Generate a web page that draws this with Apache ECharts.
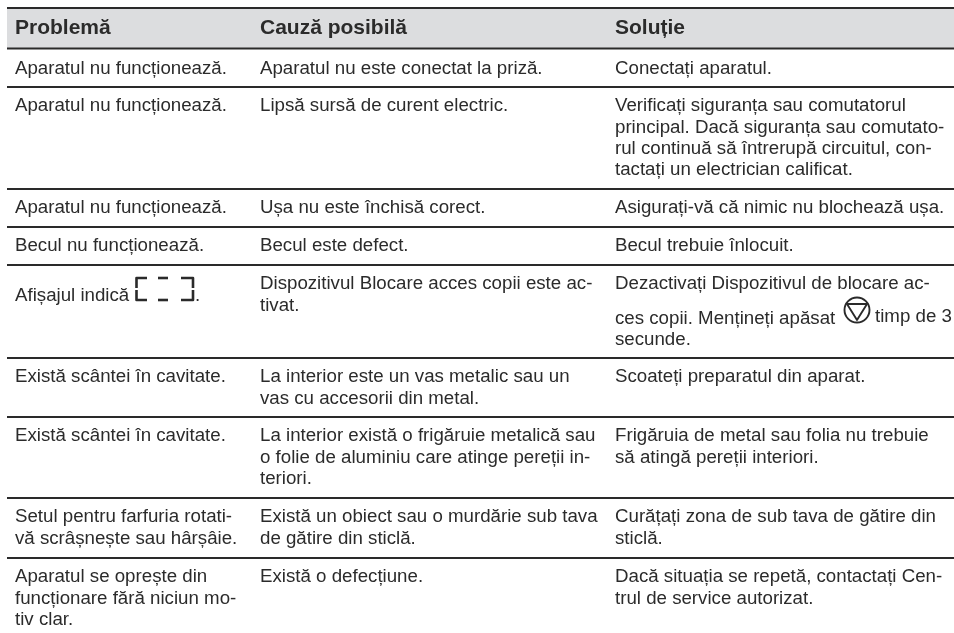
<!DOCTYPE html>
<html><head><meta charset="utf-8">
<style>html,body{margin:0;padding:0;background:#fff}#c{width:954px;height:633px}</style>
<script src="https://cdn.jsdelivr.net/npm/echarts@6/dist/echarts.min.js"></script>
</head><body><div id="c"></div>
<script>
var headers = ['Problemă', 'Cauză posibilă', 'Soluție'];
var problems = [
 ['Aparatul nu funcționează.'],
 ['Aparatul nu funcționează.'],
 ['Aparatul nu funcționează.'],
 ['Becul nu funcționează.'],
 ['Afișajul indică'],
 ['Există scântei în cavitate.'],
 ['Există scântei în cavitate.'],
 ['Setul pentru farfuria rotati-','vă scrâșnește sau hârșâie.'],
 ['Aparatul se oprește din','funcționare fără niciun mo-','tiv clar.']
];
var causes = [
 ['Aparatul nu este conectat la priză.'],
 ['Lipsă sursă de curent electric.'],
 ['Ușa nu este închisă corect.'],
 ['Becul este defect.'],
 ['Dispozitivul Blocare acces copii este ac-','tivat.'],
 ['La interior este un vas metalic sau un','vas cu accesorii din metal.'],
 ['La interior există o frigăruie metalică sau','o folie de aluminiu care atinge pereții in-','teriori.'],
 ['Există un obiect sau o murdărie sub tava','de gătire din sticlă.'],
 ['Există o defecțiune.']
];
var solutions = [
 ['Conectați aparatul.'],
 ['Verificați siguranța sau comutatorul','principal. Dacă siguranța sau comutato-','rul continuă să întrerupă circuitul, con-','tactați un electrician calificat.'],
 ['Asigurați-vă că nimic nu blochează ușa.'],
 ['Becul trebuie înlocuit.'],
 ['Dezactivați Dispozitivul de blocare ac-','ces copii. Mențineți apăsat','secunde.'],
 ['Scoateți preparatul din aparat.'],
 ['Frigăruia de metal sau folia nu trebuie','să atingă pereții interiori.'],
 ['Curățați zona de sub tava de gătire din','sticlă.'],
 ['Dacă situația se repetă, contactați Cen-','trul de service autorizat.']
];
var iconTail = 'timp de 3';

// layout (separate from the content)
var W = 954, H = 633, INK = '#2b2b2b';
var colX = [15, 260, 615];
var ruleY = [8, 48.5, 87, 189, 227, 265, 358, 417, 498, 558];
var LINE = 21.4, FIRST = 19, BODY = 18.7;

function textEl(api, x, y, s, bold) {
  var p = api.coord([x, y]);
  return {type:'text', silent:true, style:{x:p[0], y:p[1], text:s, fill:INK,
    font:(bold?'bold 21px':BODY+'px')+' "Liberation Sans", Arial, sans-serif', textVerticalAlign:'middle', textAlign:'left'}};
}
function poly(api, pts, closed, w) {
  var P = pts.map(function(q){return api.coord(q);});
  return {type:closed?'polygon':'polyline', silent:true, shape:{points:P},
    style:{fill:null, stroke:'#2a2a2a', lineWidth:w, lineJoin:'round', lineCap:'butt'}};
}
function renderHeader(params, api) {
  var a = api.coord([7, ruleY[0]]), b = api.coord([W, ruleY[1]]);
  var kids = [{type:'rect', shape:{x:a[0], y:a[1], width:b[0]-a[0], height:b[1]-a[1]}, style:{fill:'#dcdddf'}}];
  headers.forEach(function(h, i){ kids.push(textEl(api, colX[i], 28.5, h, true)); });
  kids.push(poly(api, [[7,ruleY[0]],[W,ruleY[0]]], false, 2));
  return {type:'group', children:kids};
}
function renderRow(params, api) {
  var r = api.value(0), kids = [];
  var top = ruleY[r + 1], y0 = top + FIRST + (r === 0 ? 1 : 0);
  [problems, causes, solutions].forEach(function(col, c){
    col[r].forEach(function(line, i){
      var y = y0 + i * LINE;
      if (r === 4) {
        if (c === 0) y = 296;
        if (c === 2 && i > 0) y = y0 + 13 + i * LINE;
      }
      kids.push(textEl(api, colX[c], y, line));
    });
  });
  kids.push(poly(api, [[7, ruleY[r + 1]], [W, ruleY[r + 1]]], false, 2));
  if (r === 4) {
    // LCD display glyph
    kids.push(poly(api, [[147,278],[136.5,278],[136.5,288]], false, 2.6));
    kids.push(poly(api, [[136.5,290],[136.5,300],[147,300]], false, 2.6));
    kids.push(poly(api, [[158,278],[168,278]], false, 2.6));
    kids.push(poly(api, [[158,300],[168,300]], false, 2.6));
    kids.push(poly(api, [[181,278],[193,278],[193,288]], false, 2.6));
    kids.push(poly(api, [[193,290],[193,300],[181,300]], false, 2.6));
    kids.push(textEl(api, 195, 296, '.'));
    // stop glyph
    var c = api.coord([857, 310]);
    kids.push({type:'circle', silent:true, shape:{cx:c[0], cy:c[1], r:12.5}, style:{fill:null, stroke:'#2a2a2a', lineWidth:1.9}});
    kids.push(poly(api, [[847,304],[867,304],[857,320]], true, 1.9));
    kids.push(textEl(api, 875, 317, iconTail));
  }
  return {type:'group', children:kids};
}
var rowIndex = problems.map(function(_, i){ return [i]; });
var chart = echarts.init(document.getElementById('c'), null, {renderer:'canvas'});
chart.setOption({
  animation:false,
  backgroundColor:'#fff',
  grid:{left:0, right:0, top:0, bottom:0},
  xAxis:{type:'value', min:0, max:W, show:false},
  yAxis:{type:'value', min:0, max:H, inverse:true, show:false},
  series:[
    {type:'custom', coordinateSystem:'cartesian2d', data:[[0]], renderItem:renderHeader, silent:true},
    {type:'custom', coordinateSystem:'cartesian2d', data:rowIndex, encode:{x:0}, renderItem:renderRow, silent:true}
  ]
});
</script></body></html>
